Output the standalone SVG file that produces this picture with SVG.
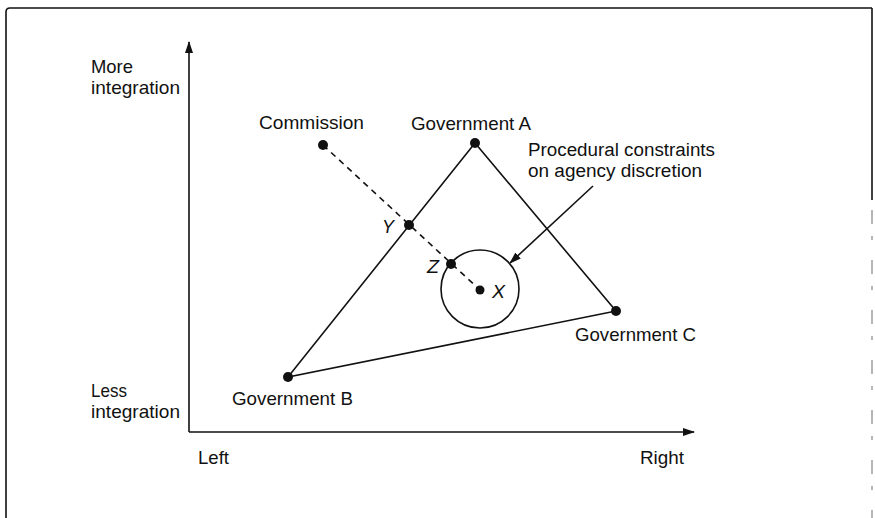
<svg xmlns="http://www.w3.org/2000/svg" width="875" height="518" viewBox="0 0 875 518">
<defs>
<marker id="ah" markerWidth="12" markerHeight="10" refX="11" refY="5" orient="auto" markerUnits="userSpaceOnUse">
<path d="M0,1 L12,5 L0,9 Z" fill="#111"/>
</marker>
<style>
text{font-family:"Liberation Sans","Arial",sans-serif;font-size:19px;fill:#111}
.sm{font-size:18px}
.it{font-style:italic}
.ln{stroke:#111;stroke-width:1.6;fill:none}
.dash{stroke:#111;stroke-width:1.6;stroke-dasharray:6,5;fill:none}
.dot{fill:#111}
</style>
</defs>
<rect width="875" height="518" fill="#fff"/>
<g id="frame">
<path d="M6,518 L6,12 Q6,8 10,8 L872,8" class="ln" stroke-width="2.2"/>
<path d="M872,8 L872,200" class="ln" stroke-width="1.4"/>
<path d="M872,210 L872,518" stroke="#888" stroke-width="1.2" stroke-dasharray="14,12,4,20" fill="none"/>
</g>
<g id="axes">
<line x1="189" y1="432" x2="189" y2="42" class="ln" marker-end="url(#ah)"/>
<line x1="189" y1="432" x2="694" y2="432" class="ln" marker-end="url(#ah)"/>
<text x="91" y="73" textLength="42" lengthAdjust="spacingAndGlyphs">More</text>
<text x="91" y="94" textLength="89" lengthAdjust="spacingAndGlyphs">integration</text>
<text x="91" y="397" textLength="36" lengthAdjust="spacingAndGlyphs">Less</text>
<text x="91" y="418" textLength="89" lengthAdjust="spacingAndGlyphs">integration</text>
<text x="198" y="464" textLength="31" lengthAdjust="spacingAndGlyphs">Left</text>
<text x="640" y="464" textLength="44" lengthAdjust="spacingAndGlyphs">Right</text>
</g>
<g id="connectors">
<polygon points="475,143 288,377 616,311" class="ln"/>
<line x1="323" y1="145" x2="480" y2="290" class="dash"/>
<line x1="593" y1="186" x2="510" y2="263" class="ln" marker-end="url(#ah)"/>
</g>
<g id="commission">
<circle cx="323" cy="145" r="5" class="dot"/>
<text x="259" y="129" textLength="105" lengthAdjust="spacingAndGlyphs">Commission</text>
</g>
<g id="govA">
<circle cx="475" cy="143" r="5" class="dot"/>
<text x="411" y="130" textLength="120" lengthAdjust="spacingAndGlyphs">Government A</text>
</g>
<g id="govB">
<circle cx="288" cy="377" r="5" class="dot"/>
<text x="232" y="405" textLength="121" lengthAdjust="spacingAndGlyphs">Government B</text>
</g>
<g id="govC">
<circle cx="616" cy="311" r="5" class="dot"/>
<text x="575" y="341" textLength="121" lengthAdjust="spacingAndGlyphs">Government C</text>
</g>
<g id="pointY">
<circle cx="409" cy="225" r="5" class="dot"/>
<text x="382" y="233" class="it" textLength="12" lengthAdjust="spacingAndGlyphs">Y</text>
</g>
<g id="pointZ">
<circle cx="451" cy="264" r="5" class="dot"/>
<text x="427" y="273" class="it" textLength="12" lengthAdjust="spacingAndGlyphs">Z</text>
</g>
<g id="pointX">
<circle cx="480" cy="289" r="39" class="ln"/>
<circle cx="480" cy="290" r="4.5" class="dot"/>
<text x="492" y="298" class="it" textLength="13" lengthAdjust="spacingAndGlyphs">X</text>
</g>
<g id="constraints">
<text class="sm" x="528" y="156" textLength="187" lengthAdjust="spacingAndGlyphs">Procedural constraints</text>
<text class="sm" x="528" y="177" textLength="174" lengthAdjust="spacingAndGlyphs">on agency discretion</text>
</g>
</svg>
